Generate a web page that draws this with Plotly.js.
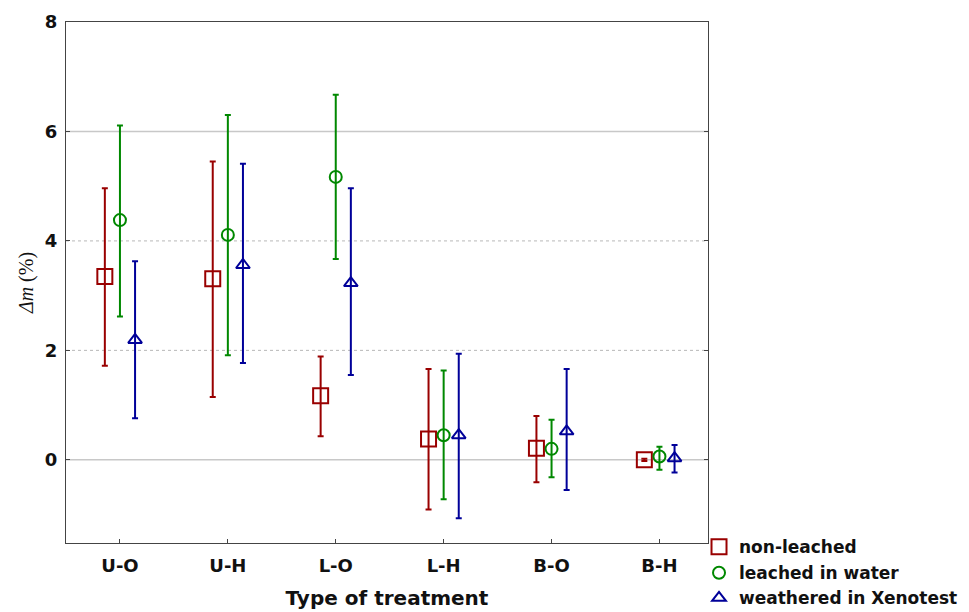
<!DOCTYPE html>
<html>
<head>
<meta charset="utf-8">
<script src="https://cdn.plot.ly/plotly-3.0.1.min.js"></script>
<style>html,body{margin:0;padding:0;background:#fff;}#chart{width:969px;height:612px;}</style>
</head>
<body>
<div id="chart"></div>
<script>
const categories = ['U-O','U-H','L-O','L-H','B-O','B-H'];
const seriesNames = ['non-leached','leached in water','weathered in Xenotest'];

const nonLeached     = [3.35, 3.31, 1.17, 0.38, 0.21, 0.00];
const nonLeachedLow  = [1.72, 1.15, 0.43, -0.91, -0.41, -0.02];
const nonLeachedHigh = [4.96, 5.45, 1.89, 1.66, 0.80, 0.02];

const water     = [4.38, 4.11, 5.17, 0.45, 0.20, 0.06];
const waterLow  = [2.62, 1.91, 3.67, -0.72, -0.32, -0.18];
const waterHigh = [6.11, 6.30, 6.67, 1.63, 0.73, 0.24];

const xeno     = [2.19, 3.56, 3.23, 0.45, 0.52, 0.03];
const xenoLow  = [0.76, 1.77, 1.55, -1.07, -0.55, -0.23];
const xenoHigh = [3.63, 5.41, 4.96, 1.94, 1.66, 0.27];

const yTicks = [0, 2, 4, 6, 8];
const solidGrid = [0, 6];
const dottedGrid = [2, 4];

const FONT = 'DejaVu Sans, Liberation Sans, Arial, sans-serif';

const series = [
  {name: seriesNames[0], y: nonLeached, lo: nonLeachedLow, hi: nonLeachedHigh, color: '#990000', symbol: 'square-open', size: 15, off: -0.14, legend: 'legend'},
  {name: seriesNames[1], y: water, lo: waterLow, hi: waterHigh, color: '#008800', symbol: 'circle-open', size: 12, off: 0, legend: 'legend2'},
  {name: seriesNames[2], y: xeno, lo: xenoLow, hi: xenoHigh, color: '#000099', symbol: 'triangle-up-open', size: 12, off: 0.14, legend: 'legend3'}
];

const traces = series.map(s => ({
  type: 'scatter',
  mode: 'markers',
  name: s.name,
  legend: s.legend,
  x: categories.map((c, i) => i + s.off),
  y: s.y,
  marker: {symbol: s.symbol, size: s.size, color: s.color, line: {color: s.color, width: 2}},
  error_y: {
    type: 'data', symmetric: false,
    array: s.hi.map((v, i) => v - s.y[i]),
    arrayminus: s.y.map((v, i) => v - s.lo[i]),
    color: s.color, thickness: 2, width: 3
  },
  hoverinfo: 'x+y'
}));

const gridShapes = solidGrid.map(v => ({
  type: 'line', xref: 'paper', x0: 0, x1: 1, yref: 'y', y0: v, y1: v,
  line: {color: '#c8c8c8', width: 1.5}, layer: 'below'
})).concat(dottedGrid.map(v => ({
  type: 'line', xref: 'paper', x0: 0, x1: 1, yref: 'y', y0: v, y1: v,
  line: {color: '#b8b8b8', width: 1, dash: 'dot'}, layer: 'below'
})));

function legendAt(yc) {
  return {
    x: 0.986, xanchor: 'left', y: yc, yanchor: 'middle',
    font: {size: 17, family: FONT, weight: 'bold', color: '#111'},
    bgcolor: 'rgba(0,0,0,0)', itemwidth: 30
  };
}

const layout = {
  width: 969, height: 612,
  paper_bgcolor: '#fff', plot_bgcolor: '#fff',
  margin: {l: 66, r: 261, t: 22, b: 69, autoexpand: false},
  font: {family: FONT, color: '#111'},
  showlegend: true,
  legend: legendAt(-0.008),
  legend2: legendAt(-0.058),
  legend3: legendAt(-0.106),
  xaxis: {
    range: [-0.5, 5.45],
    tickmode: 'array', tickvals: categories.map((c, i) => i), ticktext: categories,
    ticks: 'inside', ticklen: 4, tickcolor: '#444',
    ticklabelstandoff: 6,
    showgrid: false, zeroline: false,
    showline: true, linecolor: '#444', linewidth: 1, mirror: true,
    tickfont: {size: 18, weight: 'bold', family: FONT, color: '#111'},
    title: {text: 'Type of treatment', standoff: 16,
      font: {size: 20, weight: 'bold', family: FONT, color: '#111'}}
  },
  yaxis: {
    range: [-1.52, 8],
    tickmode: 'array', tickvals: yTicks, ticktext: yTicks.map(String),
    ticks: 'inside', ticklen: 4, tickcolor: '#444',
    ticklabelstandoff: 4,
    showgrid: false, zeroline: false,
    showline: true, linecolor: '#444', linewidth: 1, mirror: 'ticks',
    tickfont: {size: 18, weight: 'bold', family: FONT, color: '#111'},
    title: {text: '<i>Δm</i> (%)', standoff: 5,
      font: {size: 20, family: 'Liberation Serif, Times New Roman, serif', color: '#111'}}
  },
  shapes: gridShapes
};

Plotly.newPlot('chart', traces, layout, {displayModeBar: false, staticPlot: true});
</script>
</body>
</html>
